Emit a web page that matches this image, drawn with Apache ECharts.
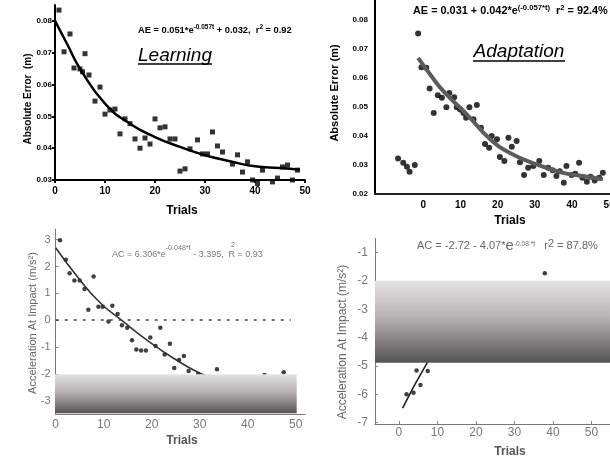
<!DOCTYPE html>
<html>
<head>
<meta charset="utf-8">
<script src="https://cdn.jsdelivr.net/npm/echarts@6/dist/echarts.min.js"></script>
<style>html,body{margin:0;padding:0;background:#fff}#c{width:610px;height:461px}</style>
</head>
<body>
<div id="c"></div>
<script>
// ---------- Panel 1: Learning (absolute error) ----------
const learnTrials = [0.8,1.8,3,3.8,5,5.5,6,6.8,8,9,10,11,12,13,14,15,16,17,18,19,20,21,22,23,24,25,26,27,28.5,29.5,30.5,31.5,32.5,33.5,35.5,36.5,37.5,38.5,39.5,40.5,41.5,43.5,44.5,45.5,46.5,47.5,48.5];
const learnError  = [0.0834,0.0703,0.0759,0.0652,0.0649,0.064,0.0697,0.063,0.0548,0.0592,0.0507,0.052,0.0523,0.0445,0.0492,0.0477,0.0429,0.040,0.0432,0.0413,0.0492,0.0464,0.0467,0.0429,0.0429,0.0328,0.0335,0.0398,0.0426,0.0382,0.0382,0.0451,0.0407,0.0388,0.035,0.0379,0.0325,0.0357,0.030,0.0289,0.0331,0.0294,0.0306,0.0341,0.0347,0.030,0.0331];
const learnFitT = [0,2.5,5,10,15,20,25,30,35,40,45,49];
const learnFitV = [0.080,0.0725,0.065,0.054,0.0477,0.0435,0.0404,0.0378,0.0359,0.0343,0.0338,0.0332];
const learnYTicks = [0.03,0.04,0.05,0.06,0.07,0.08];
const learnXTicks = [0,10,20,30,40,50];

// ---------- Panel 2: Adaptation (absolute error) ----------
const adaptTrials = [-6.8,-5.4,-4.4,-3.7,-2.3,-1.4,-0.5,0.8,1.7,2.8,3.9,5,6.2,7,8.3,9,9.9,10.8,11.5,12.4,13.5,14.4,15.5,16.6,17.7,18.4,19.8,20.6,21.8,22.9,23.8,25.1,26,27.1,28.2,29.6,31.2,32.4,33.6,34.8,35.8,36.7,37.8,38.5,39.9,40.9,41.9,42.8,44,45,46.1,47.3,48.3];
const adaptError  = [0.0323,0.0308,0.0294,0.0277,0.030,0.0754,0.0638,0.0636,0.0564,0.048,0.0541,0.0532,0.050,0.0549,0.0534,0.050,0.0492,0.048,0.0463,0.050,0.0458,0.0507,0.0429,0.0373,0.036,0.040,0.0389,0.0328,0.0314,0.0394,0.0363,0.0383,0.031,0.0266,0.0291,0.0297,0.0314,0.0266,0.0291,0.0282,0.0262,0.0279,0.0239,0.0297,0.0266,0.027,0.0308,0.0256,0.0242,0.026,0.0247,0.0256,0.0273];
const adaptFitT = [-1.4,2,5.4,11.7,18,23.3,30.5,37.6,43,48.3];
const adaptFitV = [0.067,0.061,0.0555,0.0475,0.0389,0.0342,0.0302,0.0273,0.0262,0.0251];
const adaptYTicks = [0.02,0.03,0.04,0.05,0.06,0.07,0.08];
const adaptXTicks = [0,10,20,30,40,50];

// ---------- Panel 3: Learning (acceleration at impact) ----------
const accLearnTrials = [0.9,2.1,2.9,3.9,5,6,6.8,7.9,8.9,9.8,11,11.8,12.9,13.8,14.9,15.9,16.8,17.8,18.8,19.7,20.8,21.8,22.7,23.8,24.7,25.7,26.7,27.7,29.7,33.6,43.5,47.5];
const accLearnVals   = [2.98,2.25,1.75,1.48,1.48,1.16,0.39,1.63,0.5,0.5,-0.05,0.54,0.23,-0.19,-0.28,-0.75,-1.09,-1.13,-1.13,-0.65,-0.96,-0.28,-1.28,-0.88,-1.78,-1.49,-1.34,-1.9,-2.0,-1.83,-2.05,-1.94];
const accLearnFitT = [0,4.6,9.2,13.7,19.5,24.7,29.8,32];
const accLearnFitV = [2.7,1.6,0.66,0,-0.81,-1.44,-1.96,-2.1];
const accLearnYTicks = [-3,-2,-1,0,1,2,3];
const accLearnXTicks = [0,10,20,30,40,50];
const zeroLineT = [0,49];

// ---------- Panel 4: Adaptation (acceleration at impact) ----------
const accAdaptTrials = [2,3.8,4.6,5.6,7.5,37.9];
const accAdaptVals   = [-6.0,-5.95,-5.16,-5.67,-5.18,-1.73];
const accAdaptFitT = [0.95,4.1,7.3,9.5];
const accAdaptFitV = [-6.49,-5.67,-4.9,-4.45];
const accAdaptYTicks = [-7,-6,-5,-4,-3,-2,-1];
const accAdaptXTicks = [0,10,20,30,40,50];

const FONT = 'Liberation Sans, Arial, sans-serif';
const zip = (a, b) => a.map((v, i) => [v, b[i]]);

// sequential text pieces (for super-scripts), fitted between x0 and x1
const mctx = document.createElement('canvas').getContext('2d');
function measure(t, size, weight) { mctx.font = (weight || 'normal') + ' ' + size + 'px ' + FONT; return mctx.measureText(t).width; }
function seqText(x0, x1, y, parts, color, weight) {
  let total = 0;
  parts.forEach(p => { if (!p.noAdvance) total += measure(p.t, 10 * (p.s || 1), weight); });
  const base = 10 * (x1 - x0) / total;
  let x = x0; const out = [];
  parts.forEach(p => {
    const size = base * (p.s || 1);
    out.push({type: 'text', z: 50, x: x + (p.dx || 0) * base, y: y + (p.dy || 0) * base,
      style: {text: p.t, font: (weight || 'normal') + ' ' + size.toFixed(2) + 'px ' + FONT, fill: color, align: 'left', verticalAlign: 'middle'}});
    if (!p.noAdvance) x += measure(p.t, size, weight);
  });
  return out;
}

const chart = echarts.init(document.getElementById('c'), null, {renderer: 'canvas'});

const topAxisLine = {show: true, onZero: false, lineStyle: {color: '#000', width: 2}};
const botAxisLine = {show: true, onZero: false, lineStyle: {color: '#777', width: 1}};

const grad = () => new echarts.graphic.LinearGradient(0, 0, 0, 1, [
  {offset: 0, color: '#e4e2e2'}, {offset: 0.45, color: '#b4b2b2'}, {offset: 1, color: '#545252'}]);

const option = {
  backgroundColor: '#fff',
  animation: false,
  grid: [
    {left: 55, top: 5, width: 250, height: 175, outerBoundsMode: 'none', containLabel: false},
    {left: 375, top: 0, width: 241.6, height: 194, outerBoundsMode: 'none', containLabel: false},
    {left: 55.7, top: 229, width: 249.6, height: 185, outerBoundsMode: 'none', containLabel: false},
    {left: 375, top: 238.4, width: 239.5, height: 185.6, outerBoundsMode: 'none', containLabel: false}
  ],
  xAxis: [
    {gridIndex: 0, type: 'value', min: 0, max: 50,
     axisLine: topAxisLine, splitLine: {show: false},
     axisTick: {show: true, length: 3, customValues: learnXTicks, lineStyle: {color: '#000', width: 2}},
     axisLabel: {customValues: learnXTicks, color: '#000', fontWeight: 'bold', fontSize: 10, fontFamily: FONT, margin: 6}},
    {gridIndex: 1, type: 'value', min: -13, max: 52,
     axisLine: {show: true, onZero: false, lineStyle: {color: '#222', width: 2}}, splitLine: {show: false},
     axisTick: {show: false},
     axisLabel: {customValues: adaptXTicks, color: '#000', fontWeight: 'bold', fontSize: 10, fontFamily: FONT, margin: 6}},
    {gridIndex: 2, type: 'value', min: 0, max: 52,
     axisLine: botAxisLine, splitLine: {show: false},
     axisTick: {show: false},
     axisLabel: {customValues: accLearnXTicks, color: '#777', fontSize: 12, fontFamily: FONT, margin: 5}},
    {gridIndex: 3, type: 'value', min: -6.2, max: 56,
     axisLine: botAxisLine, splitLine: {show: false},
     axisTick: {show: true, inside: true, length: 3, customValues: accAdaptXTicks, lineStyle: {color: '#888'}},
     axisLabel: {customValues: accAdaptXTicks, color: '#777', fontSize: 12, fontFamily: FONT, margin: 3}}
  ],
  yAxis: [
    {gridIndex: 0, type: 'value', min: 0.03, max: 0.085,
     axisLine: topAxisLine, splitLine: {show: false},
     axisTick: {show: true, length: 3, customValues: learnYTicks, lineStyle: {color: '#000', width: 2}},
     axisLabel: {customValues: learnYTicks, formatter: v => v.toFixed(2), color: '#000', fontWeight: 'bold', fontSize: 8, fontFamily: FONT, margin: 3}},
    {gridIndex: 1, type: 'value', min: 0.02, max: 0.087,
     axisLine: topAxisLine, splitLine: {show: false},
     axisTick: {show: false},
     axisLabel: {customValues: adaptYTicks, formatter: v => v.toFixed(2), color: '#000', fontWeight: 'bold', fontSize: 8, fontFamily: FONT, margin: 7}},
    {gridIndex: 2, type: 'value', min: -3.5, max: 3.4,
     axisLine: botAxisLine, splitLine: {show: false},
     axisTick: {show: true, inside: true, length: 3, customValues: accLearnYTicks, lineStyle: {color: '#888'}},
     axisLabel: {customValues: accLearnYTicks, color: '#777', fontSize: 11, fontFamily: FONT, margin: 5}},
    {gridIndex: 3, type: 'value', min: -7.05, max: -0.5,
     axisLine: botAxisLine, splitLine: {show: false},
     axisTick: {show: true, inside: true, length: 3, customValues: accAdaptYTicks, lineStyle: {color: '#888'}},
     axisLabel: {customValues: accAdaptYTicks, color: '#777', fontSize: 12, fontFamily: FONT, margin: 7}}
  ],
  series: [
    {type: 'scatter', xAxisIndex: 0, yAxisIndex: 0, clip: false, symbol: 'rect', symbolSize: 5,
     itemStyle: {color: '#000'}, data: zip(learnTrials, learnError)},
    {type: 'line', xAxisIndex: 0, yAxisIndex: 0, smooth: true, showSymbol: false, clip: false,
     lineStyle: {color: '#000', width: 2.5}, data: zip(learnFitT, learnFitV)},

    {type: 'scatter', xAxisIndex: 1, yAxisIndex: 1, clip: false, symbol: 'circle', symbolSize: 6,
     itemStyle: {color: '#000'}, data: zip(adaptTrials, adaptError)},
    {type: 'line', xAxisIndex: 1, yAxisIndex: 1, smooth: true, showSymbol: false, clip: false,
     lineStyle: {color: '#5c5c5c', width: 4}, data: zip(adaptFitT, adaptFitV)},

    {type: 'scatter', xAxisIndex: 2, yAxisIndex: 2, clip: false, symbol: 'circle', symbolSize: 4.5,
     itemStyle: {color: '#111'}, data: zip(accLearnTrials, accLearnVals)},
    {type: 'line', xAxisIndex: 2, yAxisIndex: 2, smooth: true, showSymbol: false,
     lineStyle: {color: '#333', width: 1.6}, data: zip(accLearnFitT, accLearnFitV),
     markLine: {silent: true, symbol: 'none', label: {show: false},
       lineStyle: {color: '#444', width: 1.5, type: [3, 6]},
       data: [[{coord: [zeroLineT[0], 0]}, {coord: [zeroLineT[1], 0]}]]}},

    {type: 'scatter', xAxisIndex: 3, yAxisIndex: 3, clip: false, symbol: 'circle', symbolSize: 4.5,
     itemStyle: {color: '#111'}, data: zip(accAdaptTrials, accAdaptVals)},
    {type: 'line', xAxisIndex: 3, yAxisIndex: 3, smooth: false, showSymbol: false,
     lineStyle: {color: '#222', width: 1.6}, data: zip(accAdaptFitT, accAdaptFitV)}
  ],
  graphic: [
    // axis titles
    {type: 'text', x: 182, y: 211, z: 50, style: {text: 'Trials', font: 'bold 12px ' + FONT, fill: '#000', align: 'center', verticalAlign: 'middle'}},
    {type: 'text', x: 510, y: 221, z: 50, style: {text: 'Trials', font: 'bold 12px ' + FONT, fill: '#000', align: 'center', verticalAlign: 'middle'}},
    {type: 'text', x: 182, y: 441, z: 50, style: {text: 'Trials', font: 'bold 12px ' + FONT, fill: '#555', align: 'center', verticalAlign: 'middle'}},
    {type: 'text', x: 510, y: 452, z: 50, style: {text: 'Trials', font: 'bold 12px ' + FONT, fill: '#555', align: 'center', verticalAlign: 'middle'}},
    {type: 'text', x: 28, y: 99, rotation: Math.PI / 2, z: 50, style: {text: 'Absolute Error  (m)', font: 'bold 10px ' + FONT, fill: '#000', align: 'center', verticalAlign: 'middle'}},
    {type: 'text', x: 335, y: 93, rotation: Math.PI / 2, z: 50, style: {text: 'Absolute Error (m)', font: 'bold 11px ' + FONT, fill: '#000', align: 'center', verticalAlign: 'middle'}},
    {type: 'text', x: 33, y: 323, rotation: Math.PI / 2, z: 50, style: {text: 'Acceleration At Impact (m/s²)', font: '11px ' + FONT, fill: '#666', align: 'center', verticalAlign: 'middle'}},
    {type: 'text', x: 343, y: 342, rotation: Math.PI / 2, z: 50, style: {text: 'Acceleration At Impact (m/s²)', font: '12px ' + FONT, fill: '#666', align: 'center', verticalAlign: 'middle'}},
    // panel labels
    {type: 'text', x: 175, y: 56, z: 50, style: {text: 'Learning', font: 'italic 19px ' + FONT, fill: '#000', align: 'center', verticalAlign: 'middle'}},
    {type: 'line', z: 50, shape: {x1: 138, y1: 64, x2: 212, y2: 64}, style: {stroke: '#000', lineWidth: 1.5}},
    {type: 'text', x: 519, y: 52, z: 50, style: {text: 'Adaptation', font: 'italic 19px ' + FONT, fill: '#000', align: 'center', verticalAlign: 'middle'}},
    {type: 'line', z: 50, shape: {x1: 473, y1: 61, x2: 565, y2: 61}, style: {stroke: '#000', lineWidth: 1.5}},
    // fit equations
    ...seqText(138, 292, 30, [
      {t: 'AE = 0.051*e'}, {t: '-0.057t', s: 0.7, dy: -0.3}, {t: ' + 0.032,  r'}, {t: '2', s: 0.7, dy: -0.3}, {t: ' = 0.92'}], '#000', 'bold'),
    ...seqText(413, 608, 11, [
      {t: 'AE = 0.031 + 0.042*e'}, {t: '(-0.057*t)', s: 0.7, dy: -0.3}, {t: '  r'}, {t: '2', s: 0.7, dy: -0.3}, {t: ' = 92.4%'}], '#000', 'bold'),
    ...seqText(112, 263, 255, [
      {t: 'AC = 6.306*e'}, {t: '-0.048*t', s: 0.8, dy: -0.75}, {t: ' - 3.395,  R'}, {t: '2', s: 0.8, dy: -1.1, dx: -0.45, noAdvance: true}, {t: ' = 0.93'}], '#777'),
    ...seqText(417, 598, 246, [
      {t: 'AC = -2.72 - 4.07*'}, {t: 'e', s: 1.35}, {t: '-0.08 *t', s: 0.6, dy: -0.2}, {t: '   r'}, {t: '2', s: 1, dy: -0.15}, {t: ' = 87.8%'}], '#666'),
    // gradient occluding boxes
    {type: 'rect', z: 100, shape: {x: 55, y: 374.3, width: 241.7, height: 39}, style: {fill: grad()}},
    {type: 'rect', z: 100, shape: {x: 375, y: 280.7, width: 235, height: 82}, style: {fill: grad()}}
  ]
};
chart.setOption(option);
</script>
</body>
</html>
